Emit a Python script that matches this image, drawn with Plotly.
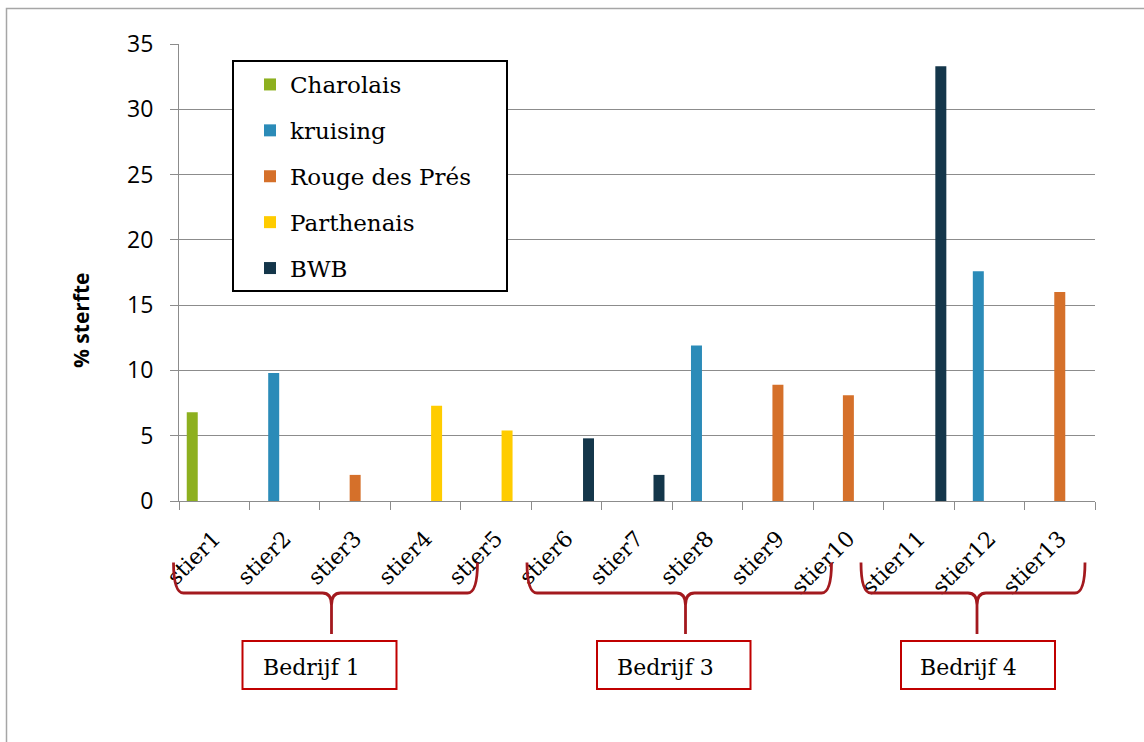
import plotly.graph_objects as go

# Mortality per bull, coloured by breed
categories = ["stier1", "stier2", "stier3", "stier4", "stier5", "stier6", "stier7",
              "stier8", "stier9", "stier10", "stier11", "stier12", "stier13"]
breeds = ["Charolais", "kruising", "Rouge des Prés", "Parthenais", "BWB"]
charolais = [6.8, None, None, None, None, None, None, None, None, None, None, None, None]
kruising = [None, 9.8, None, None, None, None, None, 11.9, None, None, None, 17.6, None]
rouge_des_pres = [None, None, 2.0, None, None, None, None, None, 8.9, 8.1, None, None, 16.0]
parthenais = [None, None, None, 7.3, 5.4, None, None, None, None, None, None, None, None]
bwb = [None, None, None, None, None, 4.8, 2.0, None, None, None, 33.3, None, None]
series = [charolais, kruising, rouge_des_pres, parthenais, bwb]
colors = ["#8DB01F", "#2B8BB8", "#D5702A", "#FFCC00", "#14364A"]

# Farm groups: (label, first bull, last bull)
farms = [("Bedrijf 1", 0, 4), ("Bedrijf 3", 5, 9), ("Bedrijf 4", 10, 12)]

W, H = 1144, 742
L, R, T, B = 179, 1095, 44, 501

def px(x):
    return (x - L) / (R - L)

def py(y):
    return (B - y) / (B - T)

SERIF = "DejaVu Serif"
SANS = "Open Sans"
GRID = "#8C8C8C"
RED = "#C00000"
BRACE = "#A3191E"

fig = go.Figure()
for name, vals, col in zip(breeds, series, colors):
    fig.add_trace(go.Bar(x=categories, y=vals, name=name, marker_color=col,
                         marker_line_width=0, legendgroup=name))

shapes = []
annotations = []

# outer frame
shapes.append(dict(type="rect", xref="paper", yref="paper",
                   x0=px(6.5), x1=px(1160), y0=py(8.5), y1=py(760),
                   line=dict(color="#A6A6A6", width=1.5), layer="below"))

# legend frame
shapes.append(dict(type="rect", xref="paper", yref="paper",
                   x0=px(233), x1=px(507), y0=py(61), y1=py(291),
                   line=dict(color="black", width=2), fillcolor="white", layer="above"))

# curly braces under each farm and the labelled boxes
brace_geo = [(173.5, 477.5, 331.5), (527, 831.5, 685.5), (861, 1085, 977)]
box_geo = [(242.5, 396.5, 261), (597, 750.5, 615), (901, 1055, 918)]
y_tip, y_bar, y_cusp = 562.5, 593, 634
for (label, i0, i1), (xl, xr, xc), (bx0, bx1, tx) in zip(farms, brace_geo, box_geo):
    pts = [
        ("M", [(xl, y_tip)]),
        ("Q", [(xl, y_bar), (xl + 10, y_bar)]),
        ("L", [(xc - 9, y_bar)]),
        ("Q", [(xc, y_bar), (xc, y_bar + 12)]),
        ("L", [(xc, y_cusp)]),
        ("M", [(xc, y_bar + 12)]),
        ("Q", [(xc, y_bar), (xc + 9, y_bar)]),
        ("L", [(xr - 10, y_bar)]),
        ("Q", [(xr, y_bar), (xr, y_tip)]),
    ]
    path = " ".join(cmd + " ".join(f"{px(a):.5f},{py(b):.5f}" for a, b in p) for cmd, p in pts)
    shapes.append(dict(type="path", xref="paper", yref="paper", path=path,
                       line=dict(color=BRACE, width=2.8)))
    shapes.append(dict(type="rect", xref="paper", yref="paper",
                       x0=px(bx0), x1=px(bx1), y0=py(641), y1=py(689),
                       line=dict(color=RED, width=2)))
    annotations.append(dict(text=label, xref="paper", yref="paper",
                            x=px(tx), y=py(667), xanchor="left", yanchor="middle",
                            showarrow=False, font=dict(family=SERIF, size=22, color="black")))

# y-axis title
annotations.append(dict(text="<b>% sterfte</b>", xref="paper", yref="paper",
                        x=px(81), y=py(320), xanchor="center", yanchor="middle",
                        textangle=-90, showarrow=False,
                        font=dict(family=SANS, size=21, color="black")))

fig.update_layout(
    width=W, height=H,
    margin=dict(l=L, r=W - R, t=T, b=H - B, pad=0),
    paper_bgcolor="white", plot_bgcolor="white",
    barmode="group", bargap=0.22, bargroupgap=0,
    shapes=shapes, annotations=annotations,
    showlegend=True,
    legend=dict(x=px(250), y=py(63), xanchor="left", yanchor="top",
                bgcolor="rgba(0,0,0,0)", borderwidth=0,
                font=dict(family=SERIF, size=23, color="black"),
                tracegroupgap=13, traceorder="grouped"),
)
fig.update_xaxes(
    type="category", showline=True, linecolor=GRID, linewidth=1,
    ticks="outside", tickson="boundaries", ticklen=8, tickcolor=GRID,
    tickangle=-45, ticklabelstandoff=15,
    tickfont=dict(family=SERIF, size=22, color="black"),
    showgrid=False,
)
fig.update_yaxes(
    range=[0, 35], dtick=5, showline=True, linecolor=GRID, linewidth=1,
    ticks="outside", ticklen=8, tickcolor=GRID, ticklabelstandoff=12,
    tickfont=dict(family=SANS, size=23, color="black"),
    showgrid=True, gridcolor=GRID, gridwidth=1, zeroline=False,
)

fig.write_html("out.html")
